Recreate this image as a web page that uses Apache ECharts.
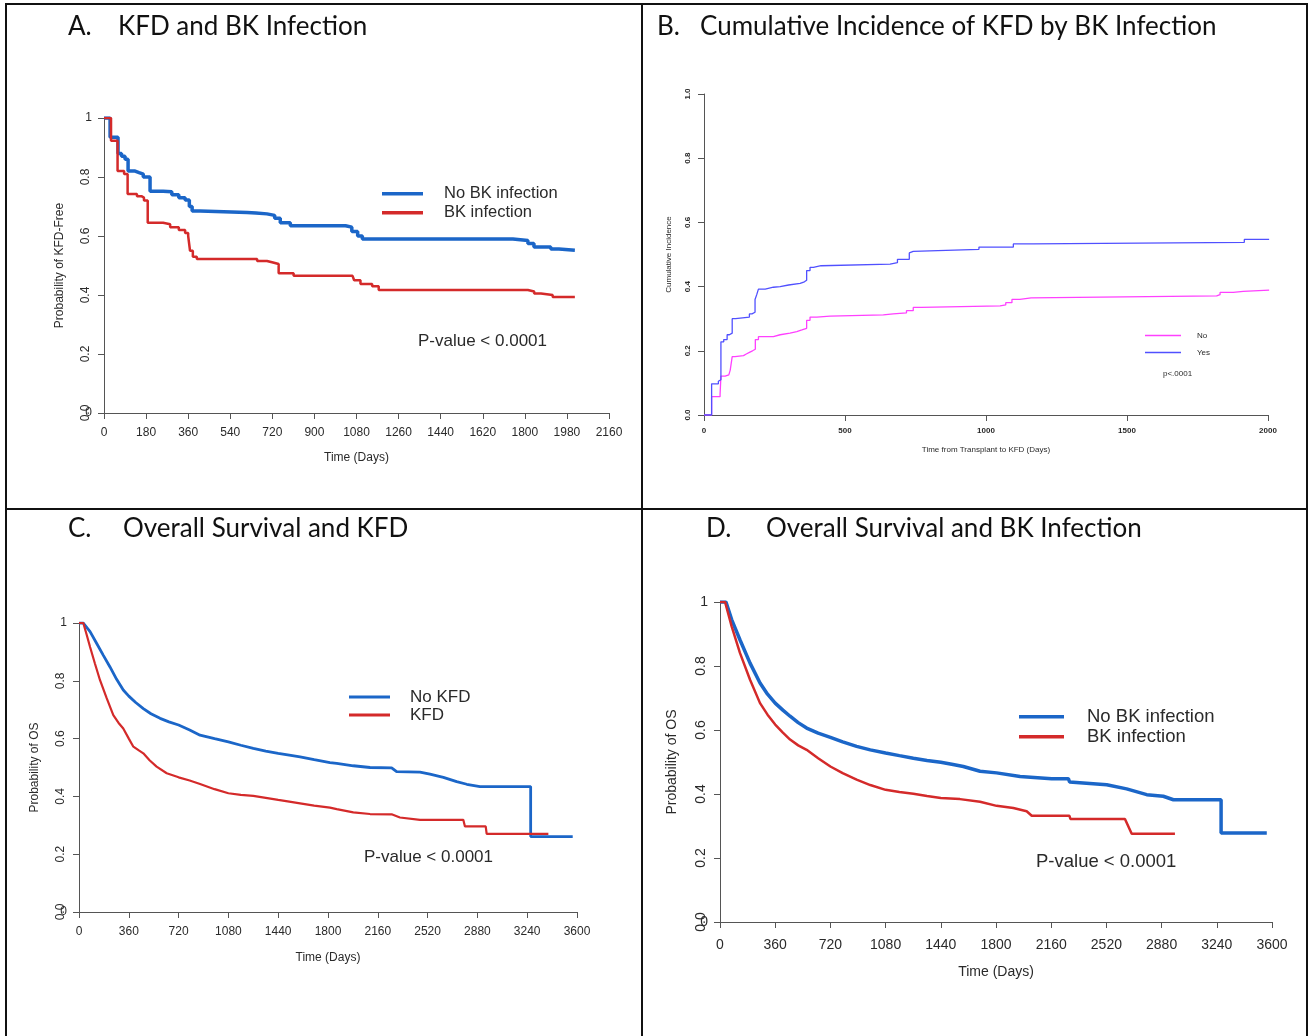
<!DOCTYPE html>
<html>
<head>
<meta charset="utf-8">
<script src="https://cdn.jsdelivr.net/npm/echarts@6/dist/echarts.min.js"></script>
<style>
html,body{margin:0;padding:0;background:#fff;}
#c{width:1316px;height:1036px;}
</style>
</head>
<body>
<div id="c"></div>
<script>
// ---------- Panel A: KFD and BK Infection (KM, KFD-free) ----------
var A_xTicks = [0,180,360,540,720,900,1080,1260,1440,1620,1800,1980,2160];
var A_yTicks = [0,0.2,0.4,0.6,0.8,1];
var A_noBK_t = [0,26,60,75,90,103,133,150,168,197,253,290,320,347,365,377,411,612,650,697,730,754,797,1033,1060,1085,1105,1131,1749,1813,1839,1911,1946,2014];
var A_noBK_s = [1,0.935,0.88,0.87,0.86,0.82,0.815,0.81,0.80,0.752,0.75,0.74,0.73,0.722,0.70,0.685,0.68,0.678,0.675,0.67,0.66,0.645,0.635,0.63,0.615,0.60,0.59,0.59,0.585,0.575,0.563,0.556,0.552,0.552];
var A_BK_t = [0,30,58,86,101,141,160,171,187,253,283,320,347,360,368,380,397,655,697,723,747,811,1063,1070,1097,1147,1175,1813,1840,1869,1919,2014];
var A_BK_s = [1,0.923,0.82,0.81,0.742,0.735,0.73,0.72,0.645,0.64,0.63,0.62,0.61,0.60,0.55,0.53,0.522,0.515,0.51,0.505,0.474,0.465,0.46,0.45,0.437,0.43,0.417,0.412,0.405,0.40,0.393,0.393];

// ---------- Panel B: Cumulative incidence of KFD by BK infection ----------
var B_xTicks = [0,500,1000,1500,2000];
var B_yTicks = [0,0.2,0.4,0.6,0.8,1.0];
var B_yes_t = [0,27,51,56,60,70,82,90,100,112,161,170,176,181,187,193,217,246,270,300,341,356,364,376,388,415,660,686,728,733,742,975,1097,1167,1916,2004];
var B_yes_s = [0,0.097,0.105,0.11,0.228,0.235,0.25,0.255,0.30,0.305,0.315,0.32,0.32,0.36,0.375,0.392,0.398,0.40,0.405,0.41,0.415,0.42,0.45,0.46,0.465,0.47,0.475,0.485,0.505,0.51,0.516,0.523,0.533,0.538,0.547,0.547];
var B_no_t = [0,27,57,60,75,88,93,100,110,140,150,161,172,182,193,246,270,305,329,347,364,376,400,447,636,671,718,742,771,1050,1070,1092,1120,1160,1818,1830,1877,1912,2004];
var B_no_s = [0,0.057,0.065,0.121,0.125,0.13,0.14,0.182,0.185,0.19,0.195,0.20,0.205,0.235,0.244,0.25,0.255,0.26,0.265,0.27,0.295,0.305,0.308,0.312,0.315,0.318,0.325,0.335,0.34,0.343,0.35,0.36,0.365,0.371,0.375,0.382,0.385,0.389,0.389];

// ---------- Panel C: Overall survival and KFD ----------
var C_xTicks = [0,360,720,1080,1440,1800,2160,2520,2880,3240,3600];
var C_yTicks = [0,0.2,0.4,0.6,0.8,1];
var C_noKFD_t = [0,31,80,128,176,224,272,320,360,410,465,520,586,650,720,800,875,980,1080,1170,1260,1350,1440,1520,1598,1700,1814,1863,1983,2104,2260,2296,2465,2537,2634,2730,2803,2899,3265,3265,3569];
var C_noKFD_s = [1,1,0.97,0.929,0.888,0.848,0.805,0.768,0.747,0.725,0.704,0.686,0.670,0.658,0.647,0.630,0.612,0.600,0.589,0.577,0.566,0.557,0.549,0.543,0.537,0.527,0.517,0.514,0.506,0.500,0.499,0.486,0.484,0.477,0.466,0.451,0.442,0.434,0.434,0.261,0.261];
var C_KFD_t = [0,31,55,80,115,152,200,248,285,320,360,393,430,465,510,561,634,720,800,875,980,1080,1170,1260,1350,1440,1520,1598,1700,1814,1863,1983,2104,2260,2320,2465,2778,2790,2940,2947,3393];
var C_KFD_s = [1,1,0.96,0.917,0.86,0.802,0.74,0.681,0.655,0.635,0.60,0.572,0.56,0.549,0.525,0.503,0.480,0.466,0.455,0.443,0.425,0.411,0.405,0.402,0.395,0.388,0.382,0.376,0.368,0.361,0.356,0.345,0.339,0.338,0.327,0.319,0.319,0.296,0.296,0.270,0.270];

// ---------- Panel D: Overall survival and BK infection ----------
var D_xTicks = [0,360,720,1080,1440,1800,2160,2520,2880,3240,3600];
var D_yTicks = [0,0.2,0.4,0.6,0.8,1];
var D_noBK_t = [0,39,76,130,196,261,310,360,410,457,510,565,640,720,800,891,980,1080,1170,1261,1350,1440,1520,1587,1696,1804,1957,2163,2272,2280,2522,2652,2783,2891,2957,3268,3268,3566];
var D_noBK_s = [1,1,0.945,0.882,0.809,0.747,0.712,0.684,0.662,0.643,0.623,0.606,0.590,0.577,0.563,0.549,0.538,0.528,0.52,0.512,0.505,0.499,0.492,0.486,0.471,0.466,0.455,0.448,0.448,0.4375,0.429,0.416,0.398,0.393,0.382,0.382,0.278,0.278];
var D_BK_t = [0,33,76,130,196,261,310,360,410,457,510,565,640,720,800,891,980,1080,1170,1261,1350,1440,1565,1696,1804,1913,2000,2033,2279,2285,2641,2685,2967];
var D_BK_s = [1,1,0.924,0.841,0.757,0.684,0.648,0.617,0.592,0.570,0.552,0.538,0.512,0.486,0.465,0.445,0.428,0.413,0.406,0.401,0.394,0.3875,0.384,0.376,0.363,0.356,0.346,0.332,0.332,0.322,0.322,0.276,0.276];

var titles = [
  {letter:'A.', text:'KFD and BK Infection'},
  {letter:'B.', text:'Cumulative Incidence of KFD by BK Infection'},
  {letter:'C.', text:'Overall Survival and KFD'},
  {letter:'D.', text:'Overall Survival and BK Infection'}
];
var pText = 'P-value < 0.0001';
var pTextB = 'p<.0001';

function zip(t, s){ return t.map(function(v,i){ return [v, s[i]]; }); }

var BLUE = '#1b66c8', RED = '#d42a2a', BBLUE = '#5050ff', BMAG = '#ff40ff';
var RFONT = 'Liberation Sans';
var TFONT = 'Lato';
var AXC = '#555';
var TXC = '#2a2a2a';

var grids = [
  {left:104, top:118, width:505, height:295},
  {left:704, top:94, width:564, height:321},
  {left:79, top:623, width:498, height:289},
  {left:720, top:602, width:552, height:320}
];

function xAx(g, ticks, fs, name, nameGap, nfs, bold, margin){
  return {
    type:'value', gridIndex:g, position:'bottom', min:ticks[0], max:ticks[ticks.length-1], interval:ticks[1]-ticks[0],
    axisLine:{show:true, onZero:false, lineStyle:{color:AXC, width:1}},
    axisTick:{show:true, inside:false, length:6, lineStyle:{color:AXC}},
    axisLabel:{show:true, fontSize:fs, fontFamily:RFONT, color:TXC, margin:margin, fontWeight: bold?'bold':'normal', showMinLabel:true, showMaxLabel:true,
      formatter:function(v){ return String(v); }},
    splitLine:{show:false},
    name:name, nameLocation:'middle', nameGap:nameGap,
    nameTextStyle:{fontSize:nfs, fontFamily:RFONT, color:TXC}
  };
}
function yAxRot(g, ticks, fs, name, nameGap, nfs, bold, margin, skipOne){
  return {
    type:'value', gridIndex:g, position:'left', min:ticks[0], max:ticks[ticks.length-1], interval:ticks[1]-ticks[0],
    axisLine:{show:true, onZero:false, lineStyle:{color:AXC, width:1}},
    axisTick:{show:true, inside:false, length:6, lineStyle:{color:AXC}},
    axisLabel:{show:true, rotate:90, fontSize:fs, fontFamily:RFONT, color:TXC, margin:margin, fontWeight: bold?'bold':'normal',
      showMinLabel:true, showMaxLabel:true,
      formatter:function(v){ if(skipOne && Math.abs(v-1)<1e-9) return ''; return v.toFixed(1); }},
    splitLine:{show:false},
    name:name, nameLocation:'middle', nameGap:nameGap,
    nameTextStyle:{fontSize:nfs, fontFamily:RFONT, color:TXC}
  };
}
function yAxUp(g, fs, margin){
  return {
    type:'value', gridIndex:g, position:'left', offset:0, min:0, max:1, interval:1,
    axisLine:{show:false, onZero:false}, axisTick:{show:false}, splitLine:{show:false},
    axisLabel:{show:true, fontSize:fs, fontFamily:RFONT, color:TXC, margin:margin, showMinLabel:true, showMaxLabel:true,
      formatter:function(v){ return String(v); }}
  };
}

function km(name, t, s, xi, yi, color, width, step){
  return {
    name:name, type:'line', xAxisIndex:xi, yAxisIndex:yi, data:zip(t,s),
    step: step ? 'end' : false, symbol:'none', showSymbol:false, silent:true, animation:false,
    lineStyle:{color:color, width:width}, itemStyle:{color:color}
  };
}

function legend(names, left, top, iw, fs, gap, textPad, lh){
  return {
    data:names.map(function(n){ return {name:n, icon:'rect'}; }),
    orient:'vertical', left:left, top:top, itemWidth:iw, itemHeight:lh, itemGap:gap,
    padding:0, selectedMode:false,
    textStyle:{fontSize:fs, fontFamily:RFONT, color:TXC, padding:[0,0,0,textPad], lineHeight:fs+1}
  };
}

var graphics = [];
// borders
graphics.push({type:'rect', shape:{x:6, y:4, width:1301, height:1040}, style:{fill:'none', stroke:'#111', lineWidth:2}});
graphics.push({type:'line', shape:{x1:642, y1:4, x2:642, y2:1036}, style:{stroke:'#111', lineWidth:2}});
graphics.push({type:'line', shape:{x1:6, y1:509, x2:1307, y2:509}, style:{stroke:'#111', lineWidth:2}});
// titles
var titlePos = [
  {lx:68, tx:118, y:27},
  {lx:657, tx:700, y:27},
  {lx:68, tx:123, y:529},
  {lx:706, tx:766, y:529}
];
titles.forEach(function(t,i){
  var p = titlePos[i];
  graphics.push({type:'text', x:p.lx, y:p.y, style:{text:t.letter, fontSize:26, fontFamily:TFONT, fill:'#111', verticalAlign:'middle'}});
  graphics.push({type:'text', x:p.tx, y:p.y, style:{text:t.text, fontSize:26, fontFamily:TFONT, fill:'#111', verticalAlign:'middle'}});
});
// p-values
graphics.push({type:'text', x:418, y:341, style:{text:pText, fontSize:17, fontFamily:RFONT, fill:TXC, verticalAlign:'middle'}});
graphics.push({type:'text', x:1163, y:374, style:{text:pTextB, fontSize:8, fontFamily:RFONT, fill:TXC, verticalAlign:'middle'}});
graphics.push({type:'text', x:364, y:857, style:{text:pText, fontSize:17, fontFamily:RFONT, fill:TXC, verticalAlign:'middle'}});
graphics.push({type:'text', x:1036, y:862, style:{text:pText, fontSize:18.5, fontFamily:RFONT, fill:TXC, verticalAlign:'middle'}});

var option = {
  backgroundColor:'#fff',
  animation:false,
  grid: grids.map(function(g){ return {left:g.left, top:g.top, width:g.width, height:g.height, containLabel:false}; }),
  xAxis: [
    xAx(0, A_xTicks, 12, 'Time (Days)', 39, 12, false, 14),
    xAx(1, B_xTicks, 8, 'Time from Transplant to KFD (Days)', 31, 8, true, 12),
    xAx(2, C_xTicks, 12, 'Time (Days)', 40, 12, false, 14),
    xAx(3, D_xTicks, 14, 'Time (Days)', 43, 14, false, 16)
  ],
  yAxis: [
    yAxRot(0, A_yTicks, 12, 'Probability of KFD-Free', 38, 12, false, 12, true),
    yAxUp(0, 12, 12),
    yAxRot(1, B_yTicks, 8, 'Cumulative Incidence', 31, 8, true, 12, false),
    yAxRot(2, C_yTicks, 12, 'Probability of OS', 38, 12, false, 12, true),
    yAxUp(2, 12, 12),
    yAxRot(3, D_yTicks, 14, 'Probability of OS', 41, 14, false, 12, true),
    yAxUp(3, 14, 12)
  ],
  legend: [
    legend(['No BK infection','BK infection'], 382, 185, 41, 16.5, 1.5, 16, 3.5),
    legend(['No','Yes'], 1145, 331, 36, 8, 8, 11, 1.3),
    legend(['No KFD','KFD'], 349, 688, 41, 17, 0, 15, 3),
    legend(['No BK infection ','BK infection '], 1019, 707, 45, 18.5, 0.5, 18, 3.5)
  ],
  series: [
    km('No BK infection', A_noBK_t, A_noBK_s, 0, 0, BLUE, 3.5, true),
    km('BK infection', A_BK_t, A_BK_s, 0, 0, RED, 2.5, true),
    km('No', B_no_t, B_no_s, 1, 2, BMAG, 1.3, true),
    km('Yes', B_yes_t, B_yes_s, 1, 2, BBLUE, 1.3, true),
    km('No KFD', C_noKFD_t, C_noKFD_s, 2, 3, BLUE, 2.8, false),
    km('KFD', C_KFD_t, C_KFD_s, 2, 3, RED, 2.2, false),
    km('No BK infection ', D_noBK_t, D_noBK_s, 3, 5, BLUE, 3.5, false),
    km('BK infection ', D_BK_t, D_BK_s, 3, 5, RED, 2.5, false)
  ],
  graphic: graphics
};

var chart = echarts.init(document.getElementById('c'), null, {renderer:'canvas'});
chart.setOption(option);
</script>
</body>
</html>
